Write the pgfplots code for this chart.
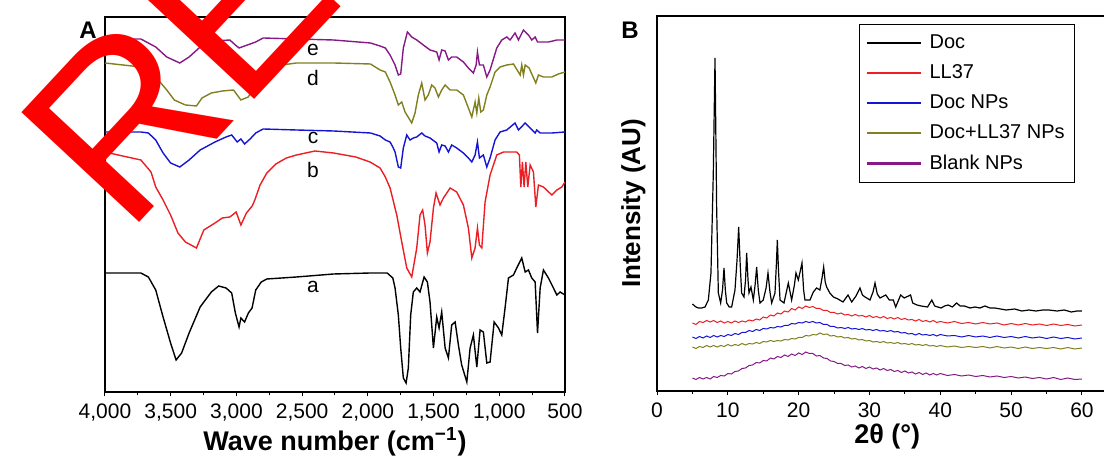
\documentclass[border=0pt]{standalone}
\usepackage{fontspec}
\setmainfont{Liberation Sans}
\usepackage{pgfplots}
\pgfplotsset{compat=1.18}
\definecolor{cred}{RGB}{235,30,35}
\definecolor{cblue}{RGB}{20,20,210}
\definecolor{colive}{RGB}{128,128,30}
\definecolor{cpurple}{RGB}{135,25,135}
\begin{document}
\begin{tikzpicture}
\useasboundingbox (0,0) rectangle (552pt,229pt);
% ---------------- Panel A (FTIR) ----------------
\begin{axis}[
  at={(52.5pt,33pt)}, anchor=south west, scale only axis,
  width=230pt, height=187.5pt,
  x dir=reverse, xmin=500, xmax=4000,
  y dir=reverse, ymin=17, ymax=392,
  xtick={500,1000,...,4000}, minor xtick={750,1250,...,3750},
  ytick=\empty, xtick pos=left,
  tick align=outside, major tick length=2.2pt, minor tick length=1.6pt,
  axis line style={line width=0.6pt},
  every tick/.style={line width=0.5pt, black},
  /pgf/number format/1000 sep={,},
  /pgf/number format/assume math mode=true,
  xticklabel style={font=\fontsize{10.5}{12}\selectfont},
  xlabel={Wave number (cm\textsuperscript{−1})},
  xlabel style={font=\fontsize{13.5}{16}\selectfont\bfseries, yshift=3.5pt},
  every axis plot/.append style={line width=0.7pt},
]
\addplot[black] coordinates {
(4000,273)(3800,273)(3727,273)(3670,277)(3614,290)(3558,317)(3501,343)(3459,360)(3417,353)(3360,333)(3276,307)(3191,292)(3135,286)(3079,288)(3036,293)(3008,313)(2980,327)(2966,318)(2938,322)(2909,313)(2881,308)(2853,290)(2811,282)(2769,279)(2543,277)(2261,274)(1980,273)(1853,273)(1810,278)(1793,288)(1768,315)(1750,348)(1730,378)(1709,383)(1692,368)(1674,315)(1654,292)(1628,288)(1603,292)(1572,277)(1547,282)(1527,302)(1501,348)(1476,317)(1458,328)(1438,312)(1412,348)(1387,358)(1362,325)(1336,322)(1311,345)(1286,365)(1247,382)(1222,348)(1197,335)(1171,367)(1146,330)(1121,332)(1095,363)(1070,362)(1039,322)(1006,328)(981,335)(956,308)(930,278)(892,275)(867,268)(829,258)(803,272)(778,270)(753,278)(727,282)(709,333)(689,288)(664,270)(626,278)(588,288)(562,295)(537,292)(500,295)
};
\addplot[cred] coordinates {
(4000,152)(3900,155)(3727,160)(3650,172)(3614,187)(3558,200)(3501,215)(3445,233)(3388,242)(3304,248)(3248,230)(3163,223)(3107,218)(3050,217)(3002,212)(2966,225)(2924,213)(2880,206)(2860,200)(2820,185)(2769,173)(2700,164)(2620,158)(2543,155)(2402,151)(2261,153)(2092,157)(1983,162)(1907,168)(1867,177)(1831,188)(1780,215)(1742,242)(1704,268)(1666,277)(1628,248)(1603,215)(1583,210)(1565,225)(1547,253)(1527,242)(1501,208)(1481,193)(1451,205)(1425,198)(1374,188)(1324,192)(1273,205)(1235,228)(1209,258)(1184,248)(1166,228)(1151,245)(1133,248)(1108,202)(1070,175)(1019,155)(968,152)(867,152)(847,155)(836,187)(824,162)(811,187)(798,162)(783,187)(765,165)(740,172)(722,207)(702,185)(664,187)(600,195)(562,190)(524,187)(500,182)
};
\addplot[cblue] coordinates {
(4000,132)(3727,132)(3670,133)(3614,140)(3558,153)(3501,163)(3431,167)(3360,160)(3276,150)(3163,142)(3079,137)(3036,135)(2994,142)(2966,139)(2938,144)(2896,139)(2853,133)(2797,129)(2543,130)(2261,131)(1980,133)(1907,136)(1867,140)(1831,142)(1810,147)(1793,152)(1768,167)(1750,168)(1730,148)(1704,135)(1679,140)(1654,138)(1628,137)(1590,133)(1565,136)(1527,138)(1476,143)(1458,152)(1438,145)(1412,146)(1387,152)(1362,145)(1324,148)(1273,153)(1235,158)(1209,162)(1184,155)(1166,142)(1151,158)(1121,155)(1095,167)(1070,158)(1032,140)(994,132)(943,130)(880,123)(854,130)(803,123)(765,128)(727,133)(715,130)(689,133)(600,133)(500,132)
};
\addplot[colive] coordinates {
(4000,63)(3727,67)(3614,77)(3530,90)(3473,100)(3388,105)(3304,106)(3262,98)(3191,93)(3107,91)(3022,90)(2966,100)(2910,97)(2825,80)(2769,72)(2656,65)(2543,63)(2261,63)(1980,64)(1907,70)(1867,72)(1831,82)(1793,95)(1768,105)(1742,102)(1717,112)(1666,123)(1641,113)(1616,95)(1590,83)(1565,100)(1540,95)(1514,85)(1489,88)(1463,97)(1438,90)(1412,85)(1374,90)(1324,90)(1273,95)(1235,108)(1209,117)(1184,102)(1171,113)(1156,98)(1141,112)(1121,110)(1095,95)(1070,87)(1032,72)(994,67)(943,65)(892,64)(841,75)(829,65)(816,75)(803,65)(773,68)(722,83)(702,75)(664,77)(600,77)(550,74)(500,72)
};
\addplot[cpurple] coordinates {
(4000,39)(3727,39)(3614,47)(3530,57)(3431,63)(3360,57)(3276,47)(3163,41)(3050,40)(3008,45)(2980,48)(2938,46)(2853,42)(2797,38)(2543,39)(2261,40)(1980,43)(1907,46)(1867,48)(1831,55)(1793,65)(1768,75)(1750,74)(1730,48)(1699,32)(1666,37)(1628,40)(1578,45)(1527,50)(1476,52)(1458,60)(1438,50)(1412,51)(1387,60)(1362,57)(1324,57)(1273,62)(1235,68)(1197,73)(1176,65)(1166,52)(1151,65)(1121,65)(1095,77)(1070,70)(1019,48)(981,40)(943,37)(918,40)(880,33)(854,40)(816,30)(778,35)(753,40)(727,37)(709,42)(625,42)(562,40)(500,40)
};
\node[font=\fontsize{10.5}{12}\selectfont] at (axis cs:2417,287) {a};
\node[font=\fontsize{10.5}{12}\selectfont] at (axis cs:2417,170) {b};
\node[font=\fontsize{10.5}{12}\selectfont] at (axis cs:2417,138) {c};
\node[font=\fontsize{10.5}{12}\selectfont] at (axis cs:2417,78) {d};
\node[font=\fontsize{10.5}{12}\selectfont] at (axis cs:2417,50) {e};
\end{axis}
% ---------------- Panel B (XRD) ----------------
\begin{axis}[
  at={(328.5pt,33.5pt)}, anchor=south west, scale only axis,
  width=230.2pt, height=187.5pt,
  xmin=0, xmax=65,
  y dir=reverse, ymin=16, ymax=391,
  xtick={0,10,...,60}, minor xtick={5,15,...,55},
  ytick=\empty, xtick pos=left,
  tick align=outside, major tick length=2.2pt, minor tick length=1.6pt,
  axis line style={line width=0.6pt},
  every tick/.style={line width=0.5pt, black},
  /pgf/number format/assume math mode=true,
  xticklabel style={font=\fontsize{10.5}{12}\selectfont},
  xlabel={2θ (°)},
  xlabel style={font=\fontsize{13.5}{16}\selectfont\bfseries, yshift=3.5pt},
  ylabel={Intensity (AU)},
  ylabel style={font=\fontsize{13}{16}\selectfont\bfseries},
  every axis plot/.append style={line width=0.5pt},
  legend cell align=left,
  legend style={at={(0.439,0.979)}, anchor=north west, draw=black, line width=0.6pt,
    font=\fontsize{10}{12}\selectfont, row sep=2.6pt, inner xsep=3pt, inner ysep=3pt},
  legend image code/.code={\draw[#1, line width=1.3pt] (0pt,0pt) -- (27pt,0pt); \path (29pt,0pt);},
]
\addplot[black, line width=0.6pt] coordinates {
(5.0,304)(5.5,307)(5.84,308)(6.3,308)(6.78,307)(7.25,300)(7.62,273)(7.95,173)(8.19,58)(8.42,207)(8.66,293)(8.99,303)(9.25,290)(9.46,268)(9.65,290)(9.84,303)(10.2,307)(10.54,307)(11.01,290)(11.3,260)(11.53,227)(11.75,265)(11.95,293)(12.28,297)(12.5,280)(12.66,253)(12.85,280)(12.99,293)(13.27,287)(13.6,300)(13.85,285)(14.07,267)(14.3,290)(14.54,303)(15.0,300)(15.4,288)(15.67,273)(15.95,292)(16.19,303)(16.66,293)(16.85,265)(16.99,240)(17.15,270)(17.37,300)(17.93,303)(18.54,283)(19.01,300)(19.4,285)(19.62,273)(19.95,280)(20.2,272)(20.47,263)(20.7,290)(20.89,300)(21.6,300)(22.07,292)(22.54,288)(23.0,290)(23.3,278)(23.53,267)(23.75,282)(23.95,287)(24.4,293)(24.9,297)(25.55,299)(26.26,302)(26.97,295)(27.49,302)(28.1,296)(28.66,288)(29.0,295)(29.37,297)(30.07,300)(30.5,292)(30.78,283)(31.1,294)(31.48,298)(32.3,295)(32.8,300)(33.37,300)(33.7,307)(34.4,295)(34.9,298)(35.8,295)(36.1,303)(36.7,305)(37.3,306)(38.2,307)(38.8,300)(39.2,306)(40.1,308)(40.6,306)(41.1,305)(41.7,307)(42.3,303)(42.8,306)(43.4,306)(44.2,308)(44.9,307)(45.6,308)(46.3,306)(47.0,308)(47.7,308)(48.5,309)(49.3,310)(50.5,309)(51.5,311)(52.5,310)(53.5,311)(54.5,310)(55.3,310)(56.5,311)(57.5,310)(58.5,312)(59.3,311)(60,311)
};
\addlegendentry{Doc}
\addplot[cred] coordinates {
(5,323)(5.5,324.5)(6,321.5)(6.5,322.5)(7,320.5)(7.5,322)(8,320.5)(8.5,322.5)(9,321)(9.5,323)(10,321.5)(10.5,323)(11,321)(11.5,322.5)(12,321)(12.5,322)(13,320)(13.5,321)(14,319)(14.5,320)(15,317)(15.5,318)(16,315)(16.5,316)(17,313)(17.5,314)(18,311)(18.5,312)(19,308.5)(19.5,310)(20,307)(20.5,308.5)(21,306)(21.5,307.5)(22,306.5)(22.5,308.5)(23,308.5)(23.5,310.5)(24,310.5)(24.5,312.5)(25,312.5)(25.5,314)(26,313)(26.5,315)(27,314.5)(27.5,316)(28,314.5)(28.5,316)(29,315.5)(29.5,317)(30,315.5)(30.5,317.5)(31,316.5)(31.5,318)(32,316.5)(32.5,318.5)(33,317.5)(33.5,319)(34,317.5)(34.5,319.5)(35,318.5)(35.5,320)(36,319.5)(36.5,321)(37,319.5)(37.5,321.5)(38,320.5)(38.5,322)(39,320.5)(39.5,322.5)(40,321.5)(41,323)(42,321.5)(43,323.5)(44,322.5)(45,324)(46,322.5)(47,324)(48,323)(49,325)(50,323.5)(51,325)(52,323.5)(53,325)(54,324)(55,325.5)(56,324)(57,325.5)(58,324.5)(59,326)(60,325)
};
\addlegendentry{LL37}
\addplot[cblue] coordinates {
(5,337)(5.5,338.5)(6,336.5)(6.5,338)(7,336)(7.5,337.5)(8,335.5)(8.5,337)(9,335.5)(9.5,336.5)(10,334.5)(10.5,335.5)(11,333.5)(11.5,334.5)(12,332.5)(12.5,332.5)(13,330.5)(13.5,331.5)(14,329.5)(14.5,330.5)(15,328.5)(15.5,329)(16,327.5)(16.5,328)(17,326.5)(17.5,327)(18,325.5)(18.5,325.5)(19,323.5)(19.5,324)(20,322.5)(20.5,323)(21,321.5)(21.5,322.5)(22,321.5)(22.5,323)(23,322.5)(23.5,324.5)(24,324.5)(24.5,326.5)(25,326.5)(25.5,328)(26,327.5)(26.5,328.5)(27,327.5)(27.5,329)(28,328.5)(28.5,329.5)(29,328.5)(29.5,330)(30,329.5)(30.5,330.5)(31,329.5)(31.5,331)(32,330.5)(32.5,331.5)(33,330.5)(33.5,332)(34,331.5)(34.5,333)(35,332.5)(35.5,334)(36,333.5)(36.5,335)(37,333.5)(37.5,335)(38,334.5)(38.5,335.5)(39,334.5)(39.5,336)(40,334.5)(41,336)(42,335.5)(43,337)(44,335.5)(45,337)(46,336)(47,337.5)(48,336)(49,337.5)(50,336.5)(51,338)(52,336.5)(53,338)(54,337)(55,338.5)(56,337)(57,338.5)(58,337.5)(59,339)(60,338)
};
\addlegendentry{Doc NPs}
\addplot[colive] coordinates {
(5,347)(5.5,348.5)(6,346.5)(6.5,347.5)(7,345.5)(7.5,347)(8,345.5)(8.5,347)(9,345.5)(9.5,346.5)(10,344.5)(10.5,346)(11,344.5)(11.5,345.5)(12,343.5)(12.5,345)(13,343.5)(13.5,344)(14,342.5)(14.5,343.5)(15,341.5)(15.5,342)(16,340.5)(16.5,341.5)(17,340.5)(17.5,341)(18,339.5)(18.5,340)(19,338.5)(19.5,339)(20,337.5)(20.5,337.5)(21,335.5)(21.5,336)(22,334.5)(22.5,335)(23,333)(23.5,334.5)(24,334)(24.5,336)(25,335.5)(25.5,337)(26,336.5)(26.5,338)(27,337.5)(27.5,339)(28,338.5)(28.5,340)(29,339.5)(29.5,341)(30,340.5)(30.5,342)(31,341.5)(31.5,342.5)(32,341.5)(32.5,343)(33,342.5)(33.5,343.5)(34,342.5)(34.5,344)(35,343.5)(35.5,344.5)(36,343.5)(36.5,345)(37,344.5)(37.5,345.5)(38,344.5)(38.5,346)(39,345.5)(39.5,346.5)(40,345.5)(41,347)(42,346)(43,347.5)(44,346.5)(45,347.5)(46,346.5)(47,348)(48,346.5)(49,348)(50,347)(51,348.5)(52,347)(53,348.5)(54,347.5)(55,348.5)(56,347.5)(57,349)(58,347.5)(59,349)(60,348)
};
\addlegendentry{Doc+LL37 NPs\hspace{22pt}}
\addplot[cpurple] coordinates {
(5,378)(5.5,379.5)(6,377.5)(6.5,379)(7,377.5)(7.5,379)(8,376.5)(8.5,377.5)(9,375.5)(9.5,376)(10,373.5)(10.5,374)(11,371.5)(11.5,371)(12,368.5)(12.5,368)(13,365.5)(13.5,365)(14,362.5)(14.5,363)(15,360.5)(15.5,361)(16,358)(16.5,359)(17,356.5)(17.5,357.5)(18,355)(18.5,356.5)(19,354)(19.5,355.5)(20,353)(20.5,354.5)(21,352)(21.5,353.5)(22,353.5)(22.5,356)(23,355.5)(23.5,358)(24,358.5)(24.5,361)(25,361.5)(25.5,363.5)(26,363.5)(26.5,365.5)(27,365)(27.5,367)(28,366)(28.5,368)(29,366.5)(29.5,368.5)(30,367)(30.5,369)(31,368)(31.5,370)(32,368.5)(32.5,370.5)(33,369.5)(33.5,371.5)(34,370.5)(34.5,372.5)(35,371)(35.5,373)(36,372)(36.5,374)(37,372.5)(37.5,374.5)(38,373)(38.5,375)(39,373.5)(39.5,375)(40,373.5)(41,375.5)(42,374.5)(43,376)(44,375)(45,376.5)(46,375.5)(47,377)(48,376)(49,377.5)(50,376.5)(51,378)(52,377)(53,378.5)(54,377.5)(55,379)(56,377.5)(57,379.5)(58,378)(59,379.5)(60,379)
};
\addlegendentry{Blank NPs}
\end{axis}
% panel letters
\node[font=\fontsize{12}{14}\selectfont\bfseries] at (44pt,214pt) {A};
\node[font=\fontsize{12}{14}\selectfont\bfseries] at (315pt,214pt) {B};
% watermark
\node[rotate=47, anchor=base west, text=red, inner sep=0pt,
      font=\fontsize{117}{117}\selectfont] at (63pt,110.5pt) {RETRACTED};
\end{tikzpicture}
\end{document}
